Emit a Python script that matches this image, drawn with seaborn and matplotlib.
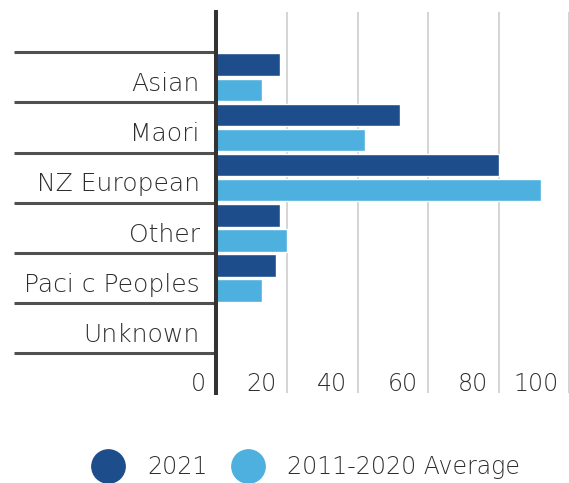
import matplotlib
matplotlib.use("Agg")
import matplotlib.pyplot as plt
import matplotlib.transforms as mtransforms
from matplotlib.lines import Line2D
import numpy as np
import pandas as pd
import seaborn as sns

# Chart data
groups = ["Asian", "Maori", "NZ European", "Other", "Paci c Peoples", "Unknown"]
series_names = ["2021", "2011-2020 Average"]
values_2021 = [18, 52, 80, 18, 17, 0]
values_avg = [13, 42, 92, 20, 13, 0]
x_ticks = [0, 20, 40, 60, 80, 100]

dark_blue = "#1e4d8c"
light_blue = "#4db0de"
text_color = "#2e2e2e"
text_weight = "light"

df = pd.DataFrame({
    "group": groups * 2,
    "series": [series_names[0]] * len(groups) + [series_names[1]] * len(groups),
    "value": values_2021 + values_avg,
})

sns.set_theme(style="white")
plt.rcParams["font.family"] = ["DejaVu Sans"]

W, H = 569, 483
fig = plt.figure(figsize=(W / 100, H / 100), dpi=100)
left_px, right_px, top_px, bottom_px = 216.5, 569, 12, 393
ax = fig.add_axes([left_px / W, 1 - bottom_px / H,
                   (right_px - left_px) / W, (bottom_px - top_px) / H])

sns.barplot(data=df, y="group", x="value", hue="series",
            order=groups, hue_order=series_names,
            palette=[dark_blue, light_blue], orient="h",
            width=1.0, gap=0.1, saturation=1, errorbar=None,
            legend=False, ax=ax)

# Row separators extending to the left of the value axis
sep_start = -(left_px - 14) / (right_px - left_px)
for y in np.arange(-0.5, len(groups)):
    ax.plot([sep_start, 0], [y, y], transform=ax.get_yaxis_transform(),
            color="#505050", lw=2.2, clip_on=False, solid_capstyle="butt")

ax.set_xlim(0, (right_px - left_px) / 3.565)
ax.set_ylim(len(groups) + 0.29, -1.3)

# Vertical grid, value labels drawn just left of each grid line
ax.set_xticks(x_ticks)
ax.set_xticklabels([])
ax.xaxis.grid(True, color="#c9c9c9", lw=1.1)
ax.yaxis.grid(False)
ax.set_axisbelow(True)
ax.tick_params(axis="x", length=0)
for v in x_ticks:
    ax.annotate(f"{v}", xy=(v, 0), xycoords=("data", "axes fraction"),
                xytext=(-7.5, 6.5), textcoords="offset points",
                ha="right", va="center", fontsize=17, color=text_color,
                fontweight=text_weight, annotation_clip=False)

ax.set_yticks(range(len(groups)))
ax.set_yticklabels(groups, fontsize=18, color=text_color,
                   fontweight=text_weight)
ax.tick_params(axis="y", length=0, pad=12)
shift = mtransforms.ScaledTranslation(0, -3 / 72, fig.dpi_scale_trans)
for lab in ax.get_yticklabels():
    lab.set_transform(lab.get_transform() + shift)

ax.set_xlabel("")
ax.set_ylabel("")
for side in ["top", "right", "bottom"]:
    ax.spines[side].set_visible(False)
ax.spines["left"].set_color("#333333")
ax.spines["left"].set_linewidth(2.9)
ax.spines["left"].set_zorder(5)

handles = [Line2D([], [], marker="o", ls="none", markersize=24,
                  markerfacecolor=c, markeredgecolor=c)
           for c in (dark_blue, light_blue)]
leg = fig.legend(handles, series_names, loc="center",
                 bbox_to_anchor=(305.5 / W, 1 - 467 / H), ncol=2,
                 frameon=False, fontsize=17, handlelength=1.4,
                 handletextpad=0.95, columnspacing=1.0,
                 labelcolor=text_color, borderaxespad=0, borderpad=0)
for t in leg.get_texts():
    t.set_fontweight(text_weight)

fig.savefig("out.png", dpi=100)
